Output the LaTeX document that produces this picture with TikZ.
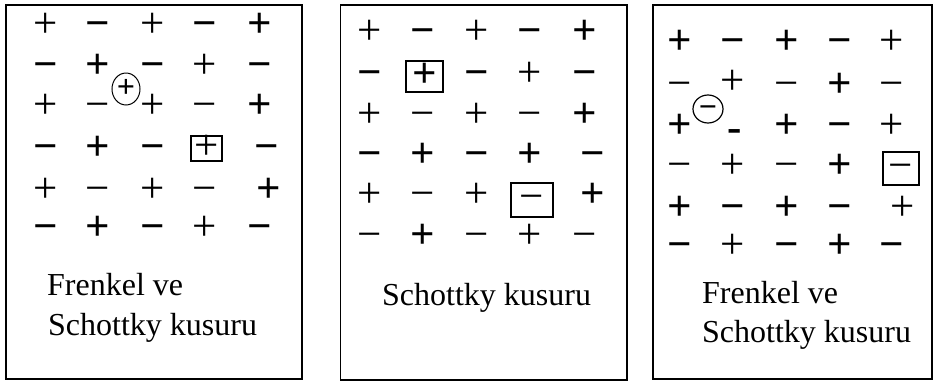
\documentclass[tikz,border=0pt]{standalone}
\usepackage{fontspec}
\setmainfont{Liberation Serif}
\usetikzlibrary{shapes.geometric}
\tikzset{
  sgn/.style={font=\fontsize{43}{43}\selectfont, text height=21.8pt, text depth=0pt, inner sep=0pt, anchor=center},
  sb/.style={sgn, font=\fontsize{43}{43}\selectfont\bfseries},
  st/.style={sgn},
  smallb/.style={font=\fontsize{32}{32}\selectfont\bfseries, text height=16.2pt, text depth=0pt, inner sep=0pt, anchor=center},
  ring/.style={draw, ellipse, line width=1pt},
  lbl/.style={font=\fontsize{32}{32}\selectfont, anchor=base west, inner sep=0pt},
  frame/.style={draw, line width=1.6pt}
}
\newcommand\sgnode[5]{\node[#2] (#1) at (#3,#4) {#5};}
\begin{document}
\begin{tikzpicture}[x=1pt,y=-1pt]
\useasboundingbox (0,0) rectangle (935,381);
% frames
\draw[frame] (6,5) rectangle (302,379);
\draw[frame, line width=1.8pt] (340.5,5) rectangle (627,380);
\draw[frame, line width=2.5pt] (653,5) rectangle (932,379);

% ---------- Panel 1 ----------
\sgnode{a11}{st}{46}{27}{+}
\sgnode{a12}{sb}{98}{27}{−}
\sgnode{a13}{st}{153}{27}{+}
\sgnode{a14}{sb}{205}{27}{−}
\sgnode{a15}{sb}{260}{27}{+}
\sgnode{a21}{sb}{46}{68}{−}
\sgnode{a22}{sb}{98}{68}{+}
\sgnode{a23}{sb}{153}{68}{−}
\sgnode{a24}{st}{205}{68}{+}
\sgnode{a25}{sb}{260}{68}{−}
\sgnode{a31}{st}{46}{108}{+}
\sgnode{a32}{st}{98}{108}{−}
\sgnode{a33}{st}{153}{108}{+}
\sgnode{a34}{st}{205}{108}{−}
\sgnode{a35}{sb}{260}{108}{+}
\sgnode{a41}{sb}{46}{150}{−}
\sgnode{a42}{sb}{98}{150}{+}
\sgnode{a43}{sb}{153}{150}{−}
\node[st, draw, line width=1.5pt, minimum width=31pt, minimum height=25pt] (a44) at (206.5,148.5) {+};
\sgnode{a45}{sb}{267}{150}{−}
\sgnode{a51}{st}{46}{192}{+}
\sgnode{a52}{st}{98}{192}{−}
\sgnode{a53}{st}{153}{192}{+}
\sgnode{a54}{st}{205}{192}{−}
\sgnode{a55}{sb}{269}{192}{+}
\sgnode{a61}{sb}{46}{230}{−}
\sgnode{a62}{sb}{98}{230}{+}
\sgnode{a63}{sb}{153}{230}{−}
\sgnode{a64}{st}{205}{230}{+}
\sgnode{a65}{sb}{260}{230}{−}
\node[smallb, ring, minimum width=28pt, minimum height=32pt] (ai) at (126,89) {+};
\node[lbl] (at1) at (47,295) {Frenkel ve};
\node[lbl] (at2) at (48,335) {Schottky kusuru};

% ---------- Panel 2 ----------
\sgnode{b11}{st}{370}{34}{+}
\sgnode{b12}{sb}{423}{34}{−}
\sgnode{b13}{st}{477}{34}{+}
\sgnode{b14}{sb}{530}{34}{−}
\sgnode{b15}{sb}{585}{34}{+}
\sgnode{b21}{sb}{370}{76}{−}
\node[sb, draw, line width=2.2pt, minimum width=37pt, minimum height=31pt] (b22) at (424.5,76.5) {+};
\sgnode{b23}{sb}{477}{76}{−}
\sgnode{b24}{st}{530}{76}{+}
\sgnode{b25}{sb}{585}{76}{−}
\sgnode{b31}{st}{370}{117}{+}
\sgnode{b32}{st}{423}{117}{−}
\sgnode{b33}{st}{477}{117}{+}
\sgnode{b34}{st}{530}{117}{−}
\sgnode{b35}{sb}{585}{117}{+}
\sgnode{b41}{sb}{370}{157}{−}
\sgnode{b42}{sb}{423}{157}{+}
\sgnode{b43}{sb}{477}{157}{−}
\sgnode{b44}{sb}{530}{157}{+}
\sgnode{b45}{sb}{593}{157}{−}
\sgnode{b51}{st}{370}{197}{+}
\sgnode{b52}{st}{423}{197}{−}
\sgnode{b53}{st}{477}{197}{+}
\node[st, draw, line width=1.5pt, minimum width=42pt, minimum height=34pt] (b54) at (532,200) {−};
\sgnode{b55}{sb}{593}{197}{+}
\sgnode{b61}{st}{370}{238}{−}
\sgnode{b62}{sb}{423}{238}{+}
\sgnode{b63}{st}{477}{238}{−}
\sgnode{b64}{st}{530}{238}{+}
\sgnode{b65}{st}{585}{238}{−}
\node[lbl] (bt1) at (382,305) {Schottky kusuru};

% ---------- Panel 3 ----------
\sgnode{c11}{sb}{680}{44}{+}
\sgnode{c12}{sb}{733}{44}{−}
\sgnode{c13}{sb}{787}{44}{+}
\sgnode{c14}{sb}{840}{44}{−}
\sgnode{c15}{st}{892}{44}{+}
\sgnode{c21}{st}{680}{87}{−}
\sgnode{c22}{st}{733}{84}{+}
\sgnode{c23}{st}{787}{87}{−}
\sgnode{c24}{sb}{840}{87}{+}
\sgnode{c25}{st}{892}{87}{−}
\sgnode{c31}{sb}{680}{128}{+}
\sgnode{c32}{sb}{735}{131}{-}
\sgnode{c33}{sb}{787}{128}{+}
\sgnode{c34}{sb}{840}{128}{−}
\sgnode{c35}{st}{892}{128}{+}
\sgnode{c41}{st}{680}{168}{−}
\sgnode{c42}{st}{733}{168}{+}
\sgnode{c43}{st}{787}{168}{−}
\sgnode{c44}{sb}{840}{168}{+}
\node[st, draw, line width=2pt, minimum width=36pt, minimum height=33pt] (c45) at (901,168.5) {−};
\sgnode{c51}{sb}{680}{210}{+}
\sgnode{c52}{sb}{733}{210}{−}
\sgnode{c53}{sb}{787}{210}{+}
\sgnode{c54}{sb}{840}{210}{−}
\sgnode{c55}{st}{903}{210}{+}
\sgnode{c61}{sb}{680}{248}{−}
\sgnode{c62}{st}{733}{248}{+}
\sgnode{c63}{sb}{787}{248}{−}
\sgnode{c64}{sb}{840}{248}{+}
\sgnode{c65}{sb}{892}{248}{−}
\node[smallb, ring, line width=1.2pt, minimum width=30pt, minimum height=28pt] (ci) at (708,109) {−};
\node[lbl] (ct1) at (702,303) {Frenkel ve};
\node[lbl] (ct2) at (702,342) {Schottky kusuru};
\end{tikzpicture}
\end{document}
